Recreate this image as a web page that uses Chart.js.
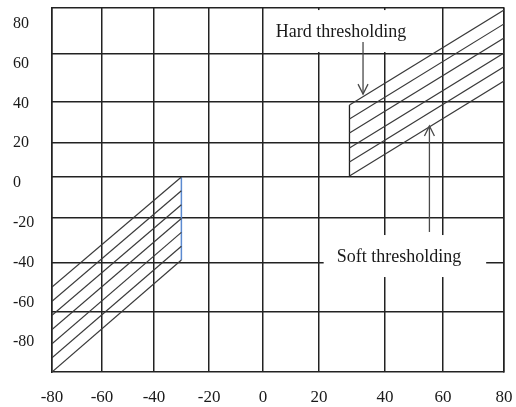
<!DOCTYPE html>
<html>
<head>
<meta charset="utf-8">
<script src="https://cdn.jsdelivr.net/npm/chart.js@4.4.0/dist/chart.umd.min.js"></script>
<style>
  html, body { margin: 0; padding: 0; background: #fff; }
  #wrap { position: relative; width: 516px; height: 407px; }
</style>
</head>
<body>
<div id="wrap"><canvas id="threshChart"></canvas></div>
<script>
// axis ticks (the sketch's grid is drawn unevenly, labels sit on its lines)
const xTickLabels = ['-80', '-60', '-40', '-20', '0', '20', '40', '60', '80'];
const xGridValues = [-80, -62.3, -43.9, -24.4, -5.3, 14.5, 37.9, 58.4, 80];
const yTickValues = [80, 60, 40, 20, 0, -20, -40, -60, -80];
const yGridValues = [88, 64.9, 40.7, 20.1, 3.0, -17.6, -40.2, -64.9];

// hatched band, positive side (hard -> soft thresholding)
const rightBandX = [25.3, 80];
const rightBandStart = [39.2, 32.2, 25.1, 17.6, 10.6, 3.5];
const rightBandEnd = [87.0, 80.0, 72.9, 65.4, 58.4, 51.3];

// hatched band, negative side
const leftBandX = [-80, -34.2];
const leftBandStart = [-52.3, -59.4, -66.5, -73.7, -80.8, -87.9, -95.0];
const leftBandEnd = [3.0, -3.9, -10.9, -17.8, -24.8, -31.8, -38.7];

// annotations
const noteText = ['Hard thresholding', 'Soft thresholding'];
const noteX = [22.3, 42.8];
const noteY = [75.9, -37.2];
const arrowX = [30.1, 53.6];
const arrowFrom = [70.9, -24.6];
const arrowTo = [44.7, 28.7];

const SERIF = "'Liberation Serif', 'Times New Roman', serif";
Chart.defaults.font.family = SERIF;
Chart.defaults.color = '#1a1a1a';

const datasets = [];
const hatch = (xs, starts, ends) => {
    starts.forEach((s, i) => {
        datasets.push({
            data: [{ x: xs[0], y: s }, { x: xs[1], y: ends[i] }],
            borderColor: '#3a3a3a',
            borderWidth: 1.2
        });
    });
};
hatch(rightBandX, rightBandStart, rightBandEnd);
hatch(leftBandX, leftBandStart, leftBandEnd);

// closing edges of the bands
datasets.push({
    data: [{ x: rightBandX[0], y: rightBandStart[rightBandStart.length - 1] }, { x: rightBandX[0], y: rightBandStart[0] }],
    borderColor: '#222', borderWidth: 1.3
});
datasets.push({
    data: [{ x: leftBandX[1], y: leftBandEnd[leftBandEnd.length - 1] }, { x: leftBandX[1], y: leftBandEnd[0] }],
    borderColor: '#5b8ad0', borderWidth: 1.5
});

// arrow shafts
arrowX.forEach((x, i) => {
    datasets.push({
        data: [{ x, y: arrowFrom[i] }, { x, y: arrowTo[i] }],
        borderColor: '#4a4a4a', borderWidth: 1.3
    });
});

// label boxes (white background cutting the grid) and arrow heads
const notesPlugin = {
    id: 'notes',
    beforeDatasetsDraw(chart) {
        const { ctx, scales: { x, y } } = chart;
        const pads = [[7, 30], [13, 25]];
        ctx.save();
        ctx.font = '18px ' + SERIF;
        noteText.forEach((t, i) => {
            const cx = x.getPixelForValue(noteX[i]);
            const cy = y.getPixelForValue(noteY[i]);
            const w = ctx.measureText(t).width;
            ctx.fillStyle = '#fff';
            ctx.fillRect(cx - w / 2 - pads[i][0], cy - 22, w + pads[i][0] + pads[i][1], 42);
        });
        ctx.restore();
    },
    afterDatasetsDraw(chart) {
        const { ctx, scales: { x, y } } = chart;
        ctx.save();
        ctx.font = '18px ' + SERIF;
        ctx.fillStyle = '#1a1a1a';
        ctx.textAlign = 'center';
        ctx.textBaseline = 'middle';
        noteText.forEach((t, i) => {
            ctx.fillText(t, x.getPixelForValue(noteX[i]), y.getPixelForValue(noteY[i]));
        });
        ctx.strokeStyle = '#4a4a4a';
        ctx.lineWidth = 1.3;
        arrowX.forEach((v, i) => {
            const px = x.getPixelForValue(v);
            const tip = y.getPixelForValue(arrowTo[i]);
            const dir = arrowTo[i] < arrowFrom[i] ? -1 : 1; // -1: pointing down
            ctx.beginPath();
            ctx.moveTo(px - 5, tip + dir * 10);
            ctx.lineTo(px, tip);
            ctx.lineTo(px + 5, tip + dir * 10);
            ctx.stroke();
        });
        ctx.restore();
    }
};

const gridColor = '#222';

new Chart(document.getElementById('threshChart'), {
    type: 'line',
    data: { datasets },
    options: {
        responsive: true,
        maintainAspectRatio: false,
        animation: false,
        layout: { padding: { left: 13, right: 12, top: 8, bottom: 0 } },
        elements: { point: { radius: 0 }, line: { tension: 0 } },
        plugins: { legend: { display: false }, tooltip: { enabled: false } },
        scales: {
            x: {
                type: 'linear',
                position: 'bottom',
                min: -80,
                max: 80,
                afterBuildTicks: s => { s.ticks = xGridValues.map(v => ({ value: v })); },
                afterFit: s => { s.height = 35; },
                ticks: {
                    autoSkip: false,
                    maxRotation: 0,
                    padding: 0,
                    font: { size: 17 },
                    callback: (v, i) => xTickLabels[i]
                },
                grid: { color: gridColor, lineWidth: 1.5, drawTicks: true, tickLength: 15, tickColor: 'rgba(0,0,0,0)' },
                border: { display: true, color: gridColor, width: 1.5 }
            },
            y: {
                type: 'linear',
                position: 'left',
                min: -95,
                max: 88,
                afterBuildTicks: s => { s.ticks = yTickValues.map(v => ({ value: v })); },
                afterFit: s => { s.width = 39; },
                ticks: {
                    autoSkip: false,
                    crossAlign: 'far',
                    padding: 0,
                    font: { size: 16, lineHeight: 1 },
                    callback: v => String(v)
                },
                grid: { display: false },
                border: { display: true, color: gridColor, width: 1.5 }
            },
            yGrid: {
                type: 'linear',
                position: 'right',
                min: -95,
                max: 88,
                afterBuildTicks: s => { s.ticks = yGridValues.map(v => ({ value: v })); },
                afterFit: s => { s.width = 0; },
                ticks: { display: false, padding: 0 },
                grid: { color: gridColor, lineWidth: 1.5, drawTicks: false },
                border: { display: true, color: gridColor, width: 1.5 }
            }
        }
    },
    plugins: [notesPlugin]
});
</script>
</body>
</html>
